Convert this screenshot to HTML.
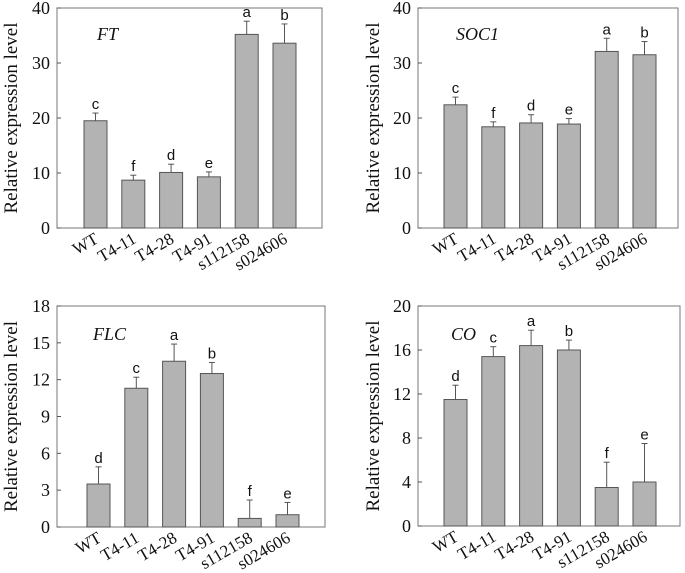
<!DOCTYPE html>
<html><head><meta charset="utf-8"><style>
body{margin:0;background:#fff}
svg{display:block}
</style></head><body>
<svg id="fig" width="685" height="573" xmlns="http://www.w3.org/2000/svg"></svg>
<script>
const categories = ["WT","T4-11","T4-28","T4-91","s112158","s024606"];
const ftValues = [19.5,8.7,10.1,9.3,35.2,33.6];
const ftErrors = [1.4,0.9,1.5,0.9,2.4,3.5];
const ftLetters = ["c","f","d","e","a","b"];
const soc1Values = [22.4,18.4,19.1,18.9,32.1,31.5];
const soc1Errors = [1.4,0.9,1.5,1.0,2.4,2.4];
const soc1Letters = ["c","f","d","e","a","b"];
const flcValues = [3.5,11.3,13.5,12.5,0.7,1.0];
const flcErrors = [1.4,0.9,1.4,0.9,1.5,1.0];
const flcLetters = ["d","c","a","b","f","e"];
const coValues = [11.5,15.4,16.4,16.0,3.5,4.0];
const coErrors = [1.3,0.9,1.4,0.9,2.3,3.5];
const coLetters = ["d","c","a","b","f","e"];
const ftTicks = [0,10,20,30,40];
const soc1Ticks = [0,10,20,30,40];
const flcTicks = [0,3,6,9,12,15,18];
const coTicks = [0,4,8,12,16,20];

const NS="http://www.w3.org/2000/svg";
const svg=document.getElementById('fig');
function mk(tag,attrs,parent,text){const e=document.createElementNS(NS,tag);for(const k in attrs)e.setAttribute(k,attrs[k]);if(text!==undefined)e.textContent=text;parent.appendChild(e);return e;}

function panel(key,gene,box,firstBar,values,errors,letters,ticks,geneX,geneY,ylabX){
  const g=mk('g',{},svg);
  
  
  const max=ticks[ticks.length-1];
  const y=v=>box.b-(v/max)*(box.b-box.t);
  const step=37.8,bw=23;
  const xOf=i=>firstBar+i*step;
  const frame=mk('rect',{x:box.l,y:box.t,width:box.r-box.l,height:box.b-box.t,fill:'none',stroke:'#777','stroke-width':1},g);
  
  
  ticks.forEach(t=>{
    const tk=mk('line',{x1:box.l,x2:box.l+4,y1:y(t),y2:y(t),stroke:'#555'},g);
    
    
    const tl=mk('text',{x:box.l-7,y:y(t)+6,'text-anchor':'end','font-family':'Liberation Serif, serif','font-size':18,fill:'#111'},g,String(t));
    
    
  });
  values.forEach((v,i)=>{
    const x=xOf(i),top=y(v),et=y(v+errors[i]);
    const er=mk('line',{x1:x+bw/2,x2:x+bw/2,y1:top,y2:et,stroke:'#555'},g);
    
    
    const cap=mk('line',{x1:x+bw/2-3,x2:x+bw/2+3,y1:et,y2:et,stroke:'#555'},g);
    
    
    const r=mk('rect',{x:x,y:top,width:bw,height:box.b-top,fill:'#b3b3b3',stroke:'#555','stroke-width':1},g);
    
    
    const lt=mk('text',{x:x+bw/2,y:et-4,'text-anchor':'middle','font-family':'Liberation Sans, sans-serif','font-size':15,fill:'#111'},g,letters[i]);
    
    
    const cx=x+bw/2+4,cy=box.b+14;
    const xl=mk('text',{x:cx,y:cy,'text-anchor':'end','font-family':'Liberation Serif, serif','font-size':17,fill:'#111',transform:'rotate(-30 '+cx+' '+cy+')'},g,categories[i]);
    
    
  });
  const gl=mk('text',{x:geneX,y:geneY,'font-family':'Liberation Serif, serif','font-style':'italic','font-size':18,fill:'#111'},g,gene);
  
  
  const cy=(box.t+box.b)/2;
  const yl=mk('text',{x:ylabX,y:cy,'text-anchor':'middle','font-family':'Liberation Serif, serif','font-size':19,fill:'#111',transform:'rotate(-90 '+ylabX+' '+cy+')'},g,'Relative expression level');
  
  
}
panel('ft','FT',{l:57,r:322,t:8,b:228},84,ftValues,ftErrors,ftLetters,ftTicks,97,40,17);
panel('soc1','SOC1',{l:418,r:678,t:8,b:228},444,soc1Values,soc1Errors,soc1Letters,soc1Ticks,456,40,379);
panel('flc','FLC',{l:57,r:325,t:306,b:527},87,flcValues,flcErrors,flcLetters,flcTicks,93,340,17);
panel('co','CO',{l:418,r:680,t:306,b:526},444,coValues,coErrors,coLetters,coTicks,451,340,379);
</script>
</body></html>
